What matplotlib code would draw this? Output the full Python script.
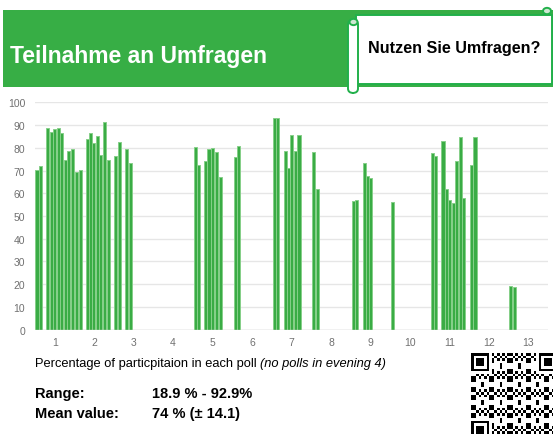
import matplotlib
matplotlib.use("Agg")
import matplotlib.pyplot as plt
from matplotlib.patches import Rectangle, FancyBboxPatch, Circle
import numpy as np

plt.rcParams['font.family'] = ['Liberation Sans', 'DejaVu Sans']

# ---- data ----
positions = [0.55, 0.63, 0.82, 0.91, 1.00, 1.10, 1.18, 1.27, 1.35, 1.44, 1.55, 1.65,
             1.82, 1.91, 1.99, 2.09, 2.17, 2.26, 2.36, 2.55, 2.63, 2.83, 2.92,
             4.56, 4.65, 4.83, 4.91, 5.00, 5.10, 5.19, 5.57, 5.65,
             6.57, 6.65, 6.84, 6.92, 7.00, 7.10, 7.19, 7.56, 7.65,
             8.57, 8.65, 8.84, 8.92, 9.00, 9.55,
             10.57, 10.65, 10.84, 10.92, 11.01, 11.10, 11.19, 11.28, 11.37, 11.56, 11.65,
             12.56, 12.64]
values = [70.4, 71.9, 88.5, 87.0, 88.2, 88.5, 86.5, 74.7, 78.6, 79.5, 69.4, 70.3,
          83.9, 86.5, 82.1, 85.2, 76.9, 91.5, 74.8, 76.6, 82.4, 79.5, 73.5,
          80.3, 72.6, 74.0, 79.4, 79.9, 78.0, 67.1, 75.8, 81.0,
          92.9, 92.9, 78.6, 71.3, 85.8, 78.5, 85.8, 78.3, 61.7,
          56.5, 57.2, 73.4, 67.7, 66.6, 56.2,
          77.8, 76.4, 82.8, 61.8, 57.2, 55.5, 74.2, 84.8, 57.8, 72.4, 84.8,
          19.2, 18.9]
evenings = list(range(1, 14))
yticks = list(range(0, 101, 10))

title = "Teilnahme an Umfragen"
question = "Nutzen Sie Umfragen?"
caption = "Percentage of particpitaion in each poll"
caption_note = "(no polls in evening 4)"
range_label, range_value = "Range:", "18.9 % - 92.9%"
mean_label, mean_value = "Mean value:", "74 % (\u00b1 14.1)"

W, H = 553, 435
fig = plt.figure(figsize=(W / 100, H / 100), dpi=100)

def fx(px):
    return px / W

def fy(py):
    return 1 - py / H

GREEN = '#37ae45'

# header band
fig.patches.append(Rectangle((fx(3), fy(88)), fx(553 - 3), 77 / H,
                             transform=fig.transFigure, facecolor=GREEN,
                             edgecolor='none', zorder=0))
fig.text(fx(10), fy(56), title, color='white', fontsize=16.5, fontweight='bold',
         va='center', ha='left')

# scroll box
EDGE = '#22b04b'
fig.patches.append(Rectangle((fx(356), fy(85)), fx(552 - 356), 69 / H,
                             transform=fig.transFigure, facecolor='white',
                             edgecolor=EDGE, linewidth=1.4, zorder=2))
fig.patches.append(FancyBboxPatch((fx(348), fy(94)), fx(10), 73 / H,
                                  boxstyle="round,pad=0,rounding_size=0.01",
                                  transform=fig.transFigure, facecolor='white',
                                  edgecolor=EDGE, linewidth=1.4, zorder=3))
fig.patches.append(Circle((fx(353.5), fy(23)), 4 / W, transform=fig.transFigure,
                          facecolor='#cfe9d2', edgecolor=EDGE, linewidth=1.4, zorder=4))
fig.patches.append(Circle((fx(547), fy(12)), 4 / W, transform=fig.transFigure,
                          facecolor='#cfe9d2', edgecolor=EDGE, linewidth=1.4, zorder=4))
fig.text(fx(368), fy(48), question, color='black', fontsize=11.6, fontweight='bold',
         va='center', ha='left', zorder=5)

# chart
ax = fig.add_axes([fx(35), fy(330.7), fx(548 - 35), (330.7 - 103.3) / H])
ax.bar(positions, values, width=0.078, color='#3aac45', edgecolor='#86cf89',
       linewidth=0.7, zorder=3)
ax.set_xlim(0.5, 13.5)
ax.set_ylim(0, 100)
ax.set_yticks(yticks)
ax.set_xticks(evenings)
ax.set_xticklabels([str(e) for e in evenings])
ax.grid(axis='y', color='#e6e6e6', linewidth=1.0, zorder=0)
ax.axhline(0, color='#cfcfcf', linewidth=1.0, zorder=4)
for s in ax.spines.values():
    s.set_visible(False)
ax.tick_params(axis='both', length=0, labelsize=7.5, labelcolor='#707070')
ax.tick_params(axis='y', pad=7)
ax.tick_params(axis='x', pad=5)

# caption texts
t = fig.text(fx(35), fy(364), caption + " ", fontsize=9.3, va='center', ha='left')
fig.canvas.draw()
bb = t.get_window_extent()
fig.text(bb.x1 / W, fy(364), caption_note, fontsize=9.3, style='italic',
         va='center', ha='left')
fig.text(fx(35), fy(394.5), range_label, fontsize=10.5, fontweight='bold', va='center')
fig.text(fx(152), fy(394.5), range_value, fontsize=10.5, fontweight='bold', va='center')
fig.text(fx(35), fy(414), mean_label, fontsize=10.5, fontweight='bold', va='center')
fig.text(fx(152), fy(414), mean_value, fontsize=10.5, fontweight='bold', va='center')

# decorative QR-like code
n = 33
qr = np.zeros((n, n), dtype=int)
ii, jj = np.meshgrid(np.arange(n), np.arange(n), indexing='ij')
qr[((ii * ii * 3 + jj * jj * 5 + ii * jj * 7 + ii + 2 * jj) % 7) < 3] = 1
def finder(r, c):
    qr[max(r - 1, 0):r + 8, max(c - 1, 0):c + 8] = 0
    qr[r:r + 7, c:c + 7] = 1
    qr[r + 1:r + 6, c + 1:c + 6] = 0
    qr[r + 2:r + 5, c + 2:c + 5] = 1
finder(0, 0)
finder(0, n - 7)
finder(n - 7, 0)
mod = 2.6
qax = fig.add_axes([fx(471), fy(354 + n * mod), n * mod / W, n * mod / H])
qax.imshow(qr, cmap='gray_r', interpolation='nearest', aspect='auto')
qax.axis('off')

fig.savefig('out.png', dpi=100)
